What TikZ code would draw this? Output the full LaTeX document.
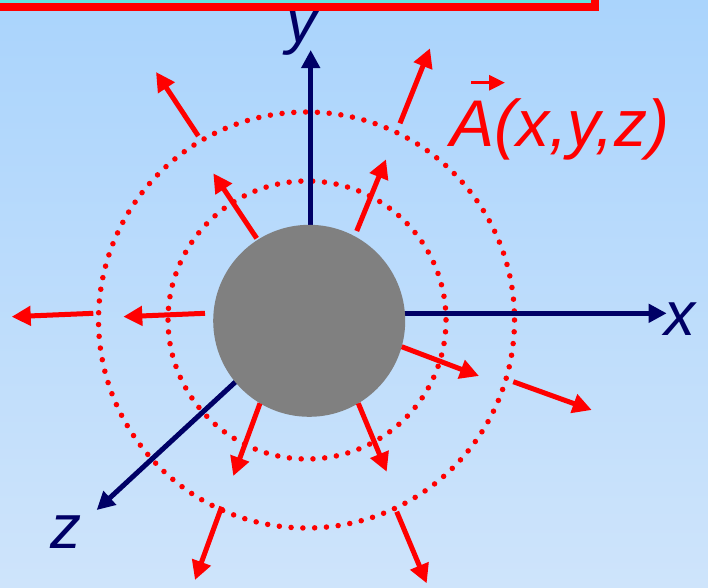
\documentclass[tikz,border=0pt]{standalone}
\usepackage{fontspec}
\setmainfont{Liberation Sans}
\usetikzlibrary{arrows.meta}
\definecolor{bgtop}{RGB}{170,212,252}
\definecolor{bgbot}{RGB}{206,228,251}
\definecolor{axisblue}{RGB}{0,0,102}
\definecolor{boxcyan}{RGB}{100,228,224}
\begin{document}
\begin{tikzpicture}[x=1pt,y=-1pt,
  field/.style={draw=red,line width=5pt,-{Triangle[length=19pt,width=19pt]}},
  axisline/.style={draw=axisblue,line width=5pt,-{Triangle[length=18pt,width=18pt]}},
  ring/.style={draw=red,line width=5.5pt,line cap=round,dash pattern=on 0pt off 11.8pt},
  axislabel/.style={text=axisblue,font=\fontsize{62}{62}\selectfont\itshape,inner sep=0pt,anchor=base west},
  fieldlabel/.style={text=red,font=\fontsize{66}{66}\selectfont\itshape,inner sep=0pt,anchor=base west}]
\useasboundingbox (0,0) rectangle (708,587);
\shade[top color=bgtop,bottom color=bgbot] (0,0) rectangle (708,587);
% axis labels
\node[axislabel] (ylab) at (286,42) {y};
\node[axislabel] (xlab) at (664,335) {x};
\node[axislabel] (zlab) at (50,548) {z};
% title box (cut by the top edge)
\draw[red,line width=8pt,fill=boxcyan] (-10,-20) rectangle (595,6.7);
% dotted rings
\draw[ring] (307,320) circle[radius=139];
\draw[ring] (306.5,320) circle[radius=208];
% axes
\coordinate (ytip) at (310.7,50);
\coordinate (xtip) at (666.7,313.3);
\coordinate (zstart) at (270,350);
\coordinate (ztip) at (96.7,510);
\draw[axisline] (310.7,320) -- (ytip);
\draw[axisline] (309,313.3) -- (xtip);
\draw[axisline] (zstart) -- (ztip);
% sphere
\node[circle,fill=black!50,minimum size=192pt,inner sep=0pt] (sphere) at (309.2,320.8) {};
% inner field arrows
\draw[field] (256.7,238.3) -- (213.3,173.3);
\draw[field] (356.7,231) -- (386,159.3);
\draw[field] (205,313.3) -- (123.3,316.7);
\draw[field] (401.7,346.7) -- (479,376);
\draw[field] (260,403.3) -- (233.3,476);
\draw[field] (358.3,403.3) -- (386.7,471.7);
% outer field arrows
\draw[field] (198.3,136) -- (156,72);
\draw[field] (400,123.3) -- (430,48.3);
\draw[field] (93.3,313.3) -- (11.7,316.7);
\draw[field] (513.3,381.7) -- (591.7,410);
\draw[field] (221.7,506.7) -- (195,580);
\draw[field] (396.7,511.7) -- (426.7,583.3);
% field label
\node[fieldlabel] (alab) at (450,146.7) {A(x,y,z)};
\draw[red,line width=3pt,-{Triangle[length=16pt,width=15pt]}] ([xshift=21pt,yshift=64pt]alab.base west) -- ++(34,0);
\end{tikzpicture}
\end{document}
